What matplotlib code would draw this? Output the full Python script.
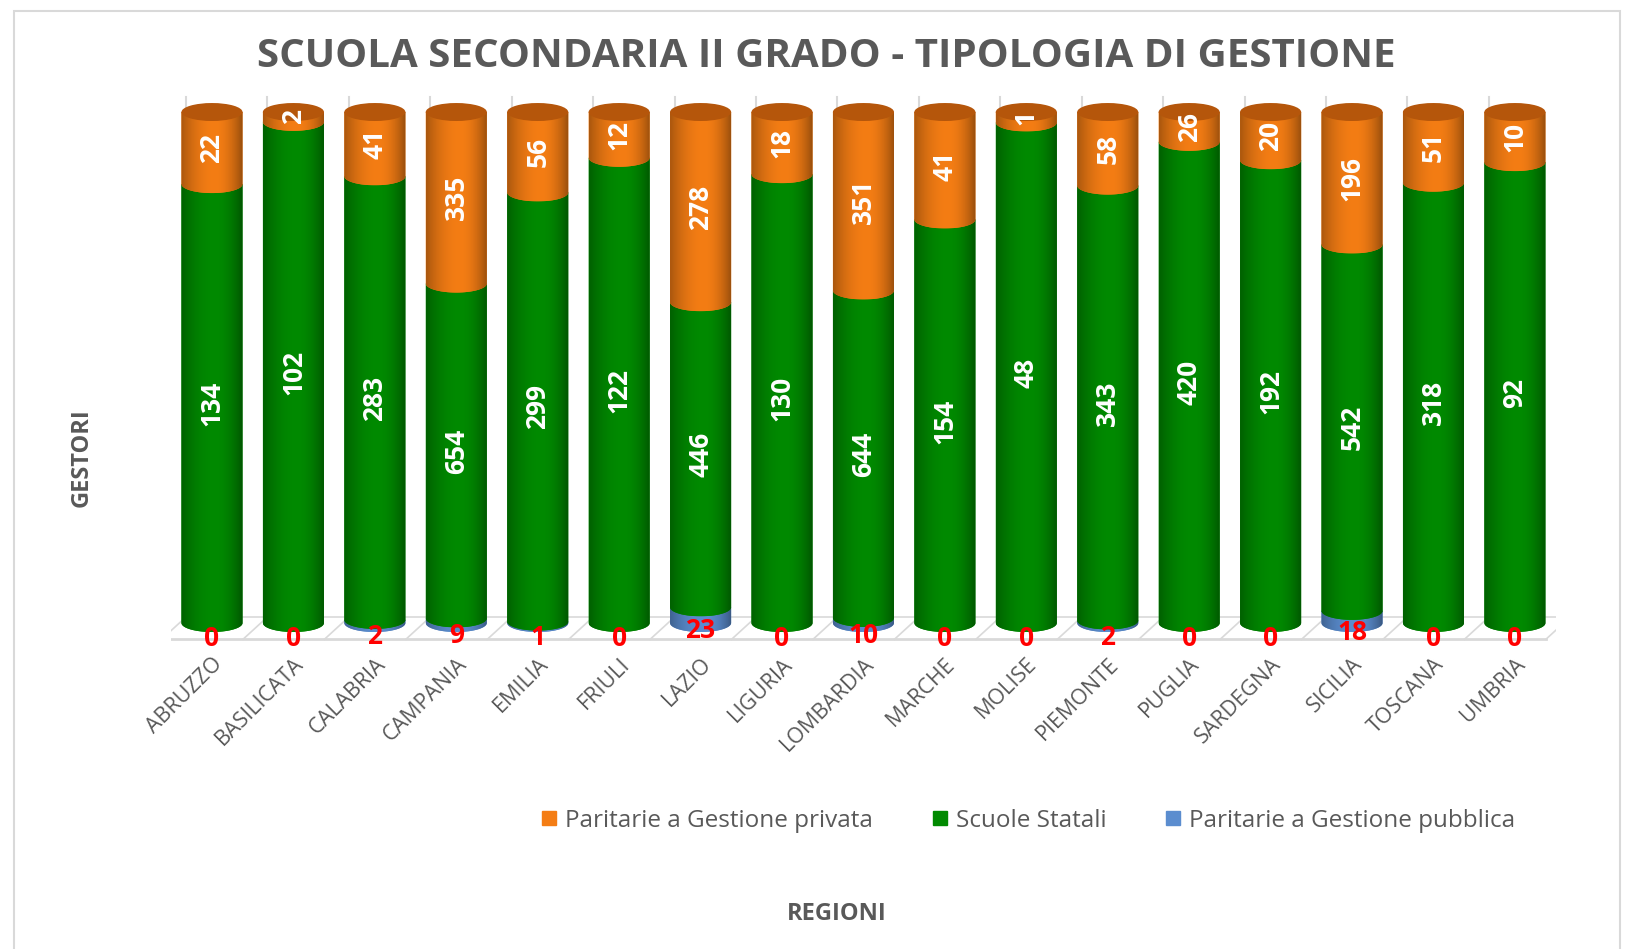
import numpy as np
import matplotlib
matplotlib.use("Agg")
import matplotlib.pyplot as plt
from matplotlib.patches import Polygon, Ellipse, Rectangle
from matplotlib.lines import Line2D
from matplotlib.transforms import ScaledTranslation

plt.rcParams['font.family'] = ['Open Sans', 'DejaVu Sans']

regioni = ['ABRUZZO', 'BASILICATA', 'CALABRIA', 'CAMPANIA', 'EMILIA', 'FRIULI',
           'LAZIO', 'LIGURIA', 'LOMBARDIA', 'MARCHE', 'MOLISE', 'PIEMONTE',
           'PUGLIA', 'SARDEGNA', 'SICILIA', 'TOSCANA', 'UMBRIA']
privata = [22, 2, 41, 335, 56, 12, 278, 18, 351, 41, 1, 58, 26, 20, 196, 51, 10]
statali = [134, 102, 283, 654, 299, 122, 446, 130, 644, 154, 48, 343, 420, 192, 542, 318, 92]
pubblica = [0, 0, 2, 9, 1, 0, 23, 0, 10, 0, 0, 2, 0, 0, 18, 0, 0]

serie = ['Paritarie a Gestione privata', 'Scuole Statali', 'Paritarie a Gestione pubblica']
colori = {'pub': '#5b8dcf', 'stat': '#008a00', 'priv': '#f47d14'}
cap_col = '#b5560b'
grid_col = '#d9d9d9'
text_col = '#595959'

fig = plt.figure(figsize=(16.25, 9.49), dpi=100)
ax = fig.add_axes([0.1054, 0.3112, 0.8519, 0.5923])
ax.set_xlim(-0.5, 16.5)
ax.set_ylim(-0.06, 1.04)

n = len(regioni)
x = np.arange(n)
w = 0.75
eh = 0.0176

# pareti e pavimento
for i in range(n + 1):
    xb = i - 0.32
    ax.plot([xb, xb], [0.0117, 1.029], color=grid_col, lw=1.5, zorder=0)
    ax.plot([xb, xb - 0.3], [0.0117, -0.032], color=grid_col, lw=1.2, zorder=0)
ax.plot([-0.32, n - 0.32], [0.0117, 0.0117], color=grid_col, lw=1.2, zorder=0)
ax.plot([-0.62, n - 0.62], [-0.032, -0.032], color=grid_col, lw=2, zorder=0)


def shade(hexcol, npx=80):
    base = np.array(matplotlib.colors.to_rgb(hexcol))
    t = np.linspace(0, 1, npx)
    f = np.where(t < 0.55, 1 - 0.30 * ((t - 0.55) / 0.55) ** 2,
                 1 - 0.38 * ((t - 0.55) / 0.45) ** 2)
    return np.clip(base[None, :] * f[:, None], 0, 1)[None, :, :]


def segmento(xc, y0, y1, col, z):
    th = np.linspace(0, np.pi, 40)
    pts = [(xc - w / 2, y1), (xc + w / 2, y1)]
    pts += [(xc + w / 2 * np.cos(a), y0 - eh * np.sin(a)) for a in th]
    poly = Polygon(pts, closed=True, facecolor=col, edgecolor='none',
                   transform=ax.transData, zorder=z)
    ax.add_patch(poly)
    im = ax.imshow(shade(col), extent=[xc - w / 2, xc + w / 2, y0 - eh, y1],
                   aspect='auto', zorder=z, interpolation='bilinear')
    im.set_clip_path(poly)


for i in range(n):
    tot = privata[i] + statali[i] + pubblica[i]
    fp = pubblica[i] / tot
    fs = statali[i] / tot
    if pubblica[i] > 0:
        segmento(x[i], 0, fp, colori['pub'], 2)
    segmento(x[i], fp, fp + fs, colori['stat'], 3)
    segmento(x[i], fp + fs, 1, colori['priv'], 4)
    ax.add_patch(Ellipse((x[i], 1), w, 2 * eh, facecolor=cap_col,
                         edgecolor='none', zorder=5))
    # etichette
    ax.text(x[i], fp + fs / 2, str(statali[i]), rotation=90, color='white',
            fontsize=19, fontweight='bold', ha='center', va='center', zorder=6)
    ax.text(x[i], fp + fs + (1 - fp - fs) / 2, str(privata[i]), rotation=90,
            color='white', fontsize=19, fontweight='bold', ha='center',
            va='center', zorder=6)
    ax.annotate(str(pubblica[i]), (x[i], fp / 2), xytext=(0, -11),
                textcoords='offset points', color='#ff0000', fontsize=19,
                fontweight='bold', ha='center', va='center', zorder=7)

ax.set_xticks(x)
ax.set_xticklabels(regioni, rotation=45, ha='right', va='top',
                   rotation_mode='anchor', fontsize=15.5, color=text_col)
off = ScaledTranslation(-18 / 100, -4 / 100, fig.dpi_scale_trans)
for lab in ax.get_xticklabels():
    lab.set_transform(lab.get_transform() + off)
ax.tick_params(axis='x', length=0, pad=0)
ax.set_yticks([])
for s in ax.spines.values():
    s.set_visible(False)

ax.set_ylabel('GESTORI', fontsize=17, fontweight='bold', color=text_col)
ax.yaxis.set_label_coords(-0.056, 0.348)
ax.set_xlabel('REGIONI', fontsize=17, fontweight='bold', color=text_col)
ax.xaxis.set_label_coords(0.481, -0.441)

fig.text(0.5083, 0.94, 'SCUOLA SECONDARIA II GRADO - TIPOLOGIA DI GESTIONE',
         ha='center', va='center', fontsize=29, fontweight='bold', color=text_col)

handles = [Line2D([], [], marker='s', ls='', markersize=10, color=colori['priv']),
           Line2D([], [], marker='s', ls='', markersize=10, color=colori['stat']),
           Line2D([], [], marker='s', ls='', markersize=10, color=colori['pub'])]
fig.legend(handles, serie, loc='center', bbox_to_anchor=(0.6326, 0.1349), ncol=3,
           frameon=False, fontsize=17.5, handlelength=0.7, handletextpad=0.3,
           columnspacing=2.4, labelcolor=text_col)

fig.add_artist(Rectangle((14 / 1625, -0.01), 1606 / 1625, 1 - 11 / 949 + 0.01,
                         transform=fig.transFigure, fill=False,
                         edgecolor=grid_col, lw=1.5))

fig.savefig('out.png', dpi=100)
